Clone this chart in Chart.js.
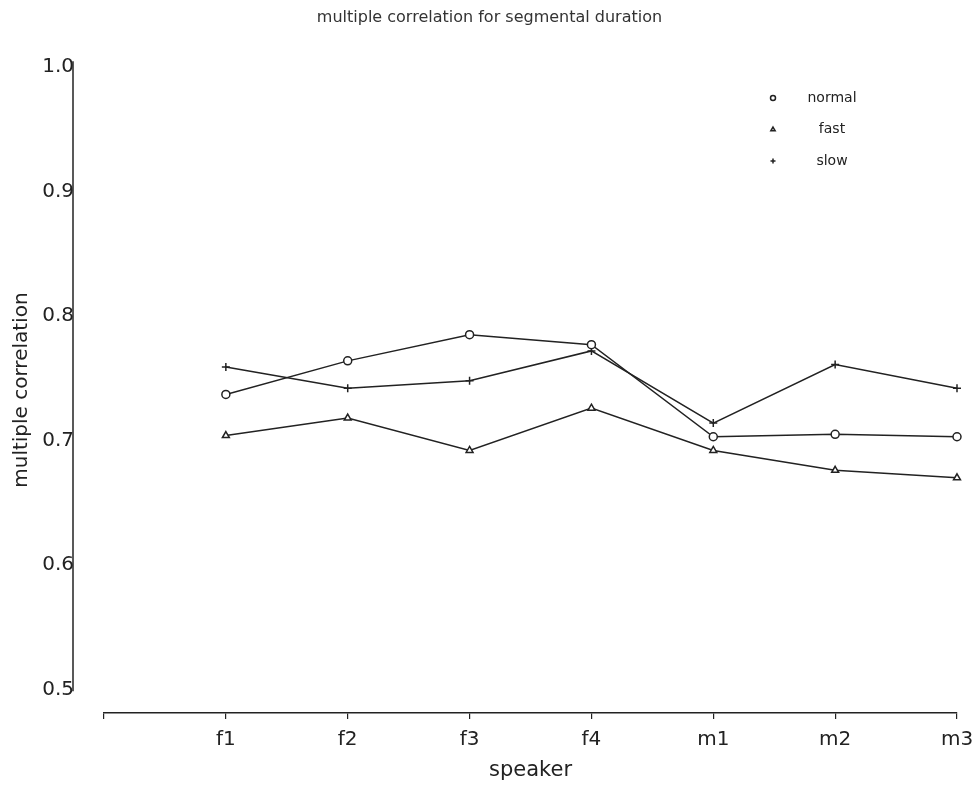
<!DOCTYPE html>
<html>
<head>
<meta charset="utf-8">
<script src="https://cdn.jsdelivr.net/npm/chart.js@4"></script>
<style>
  body { margin: 0; background: #fff; }
  #wrap { width: 979px; height: 786px; }
</style>
</head>
<body>
<div id="wrap"><canvas id="corr-chart"></canvas></div>
<script>
// values
const speakers = ["f1", "f2", "f3", "f4", "m1", "m2", "m3"];
const normalValues = [0.737, 0.764, 0.785, 0.777, 0.703, 0.705, 0.703];
const fastValues = [0.704, 0.718, 0.692, 0.726, 0.692, 0.676, 0.670];
const slowValues = [0.759, 0.742, 0.748, 0.772, 0.714, 0.761, 0.742];
const yTicks = [0.5, 0.6, 0.7, 0.8, 0.9, 1.0];

const FONT = "'DejaVu Sans', Verdana, sans-serif";
const INK = "#222";

// empty first slot: the x axis starts one step left of f1
const labels = [""].concat(speakers);
const pad = (arr) => [null].concat(arr);

const series = [
  { label: "normal", data: normalValues, pointStyle: "circle" },
  { label: "fast", data: fastValues, pointStyle: "triangle" },
  { label: "slow", data: slowValues, pointStyle: "cross" },
];

// detached y axis line + legend in the top right corner
const extras = {
  id: "extras",
  afterDraw(chart) {
    const { ctx, chartArea, scales } = chart;
    const y = scales.y;
    ctx.save();
    ctx.strokeStyle = INK;
    ctx.lineWidth = 1.5;
    const ax = chartArea.left - 31;
    ctx.beginPath();
    ctx.moveTo(ax, y.getPixelForValue(yTicks[yTicks.length - 1]) - 6);
    ctx.lineTo(ax, y.getPixelForValue(yTicks[0]) + 2);
    ctx.stroke();

    ctx.font = "14px " + FONT;
    ctx.textAlign = "center";
    ctx.textBaseline = "middle";
    series.forEach((s, i) => {
      const ly = 98 + i * 31.5;
      ctx.fillStyle = "#fff";
      ctx.strokeStyle = INK;
      Chart.helpers.drawPoint(
        ctx,
        { pointStyle: s.pointStyle, radius: 2.5, borderWidth: 1.2, rotation: 0 },
        773,
        ly
      );
      ctx.fillStyle = INK;
      ctx.fillText(s.label, 832, ly);
    });
    ctx.restore();
  },
};

new Chart(document.getElementById("corr-chart"), {
  type: "line",
  data: {
    labels: labels,
    datasets: series.map((s) => ({
      label: s.label,
      data: pad(s.data),
      borderColor: INK,
      backgroundColor: "#fff",
      borderWidth: 1.5,
      pointStyle: s.pointStyle,
      pointRadius: 4,
      pointBorderWidth: 1.5,
      pointBorderColor: INK,
      pointBackgroundColor: "#fff",
      tension: 0,
    })),
  },
  options: {
    responsive: true,
    maintainAspectRatio: false,
    animation: false,
    layout: { padding: 0 },
    scales: {
      x: {
        offset: false,
        afterFit: (s) => {
          s.height = 73;
          s.paddingRight = 22; // room on the right without shifting the title
        },
        grid: {
          drawOnChartArea: false,
          drawTicks: true,
          tickLength: 6,
          color: INK,
          lineWidth: 1.2,
        },
        border: { display: true, color: INK, width: 1.5 },
        ticks: {
          autoSkip: false,
          maxRotation: 0,
          padding: 9,
          color: INK,
          font: { family: FONT, size: 20 },
        },
        title: {
          display: true,
          text: "speaker",
          color: INK,
          font: { family: FONT, size: 21 },
          padding: { top: 0, bottom: 3 },
        },
      },
      y: {
        // axis runs a little below 0.5 so the x axis sits detached under it
        min: 0.481,
        max: 1.0,
        afterFit: (s) => { s.width = 104; },
        afterBuildTicks: (s) => { s.ticks = yTicks.map((v) => ({ value: v })); },
        grid: { display: false, drawTicks: false },
        border: { display: false },
        ticks: {
          padding: 30,
          color: INK,
          font: { family: FONT, size: 20 },
          callback: (v) => Number(v).toFixed(1),
        },
        title: {
          display: true,
          text: "multiple correlation",
          color: INK,
          font: { family: FONT, size: 20 },
          padding: { top: 10, bottom: 0 },
        },
      },
    },
    plugins: {
      legend: { display: false },
      tooltip: { enabled: false },
      title: {
        display: true,
        text: "multiple correlation for segmental duration",
        color: "#333",
        font: { family: FONT, size: 16, weight: "normal" },
        padding: { top: 8, bottom: 40 },
      },
    },
  },
  plugins: [extras],
});
</script>
</body>
</html>
